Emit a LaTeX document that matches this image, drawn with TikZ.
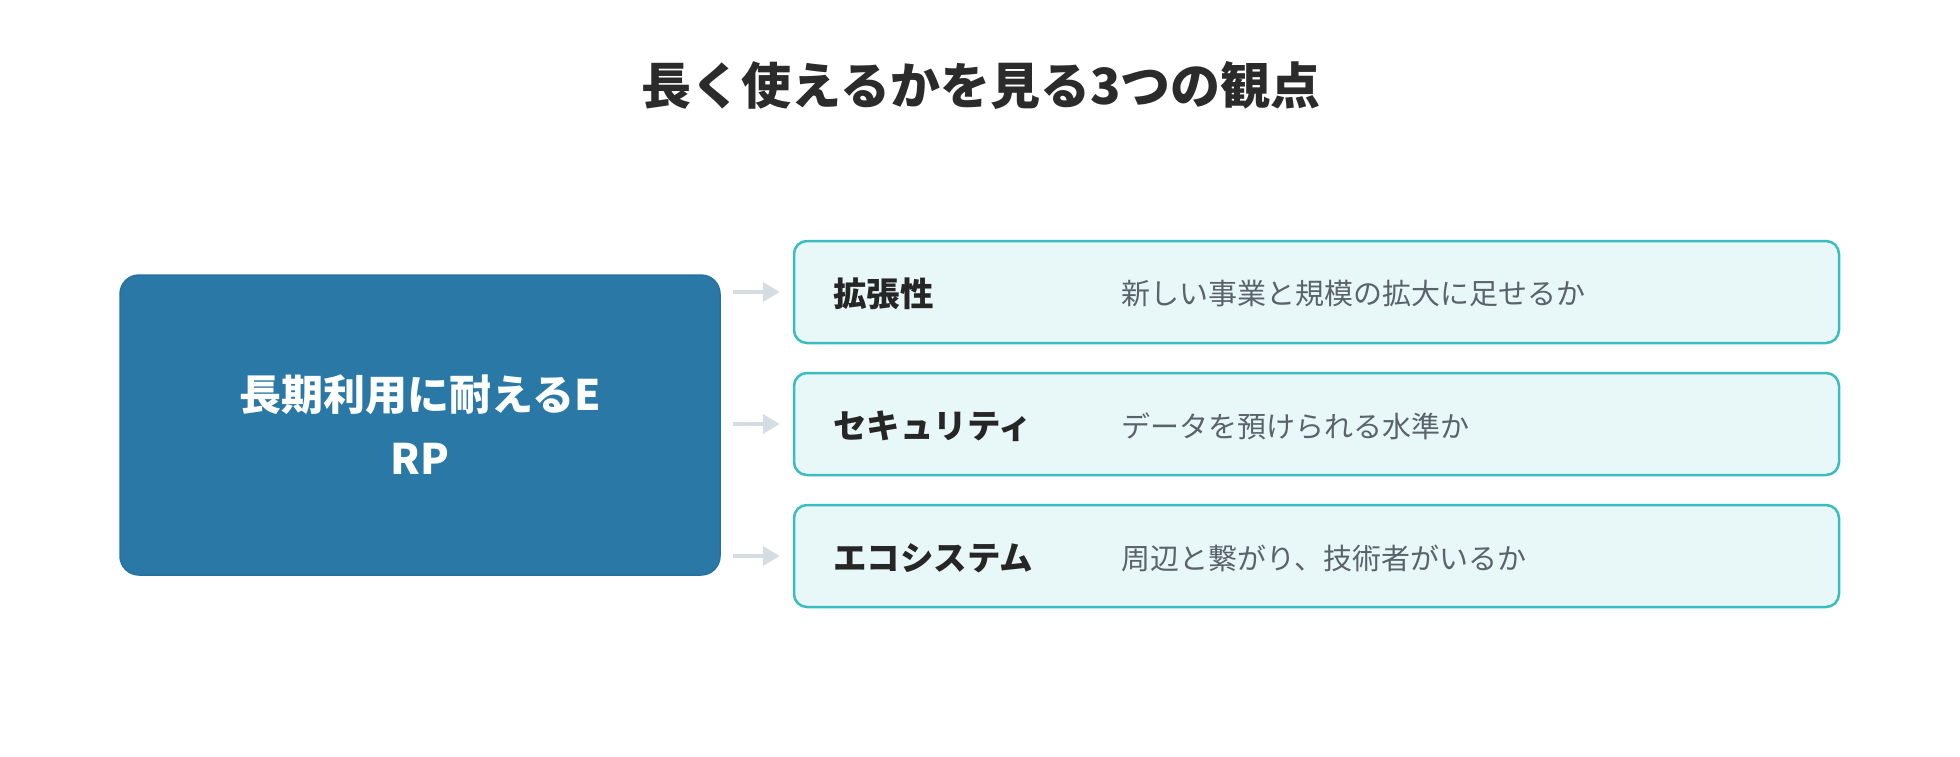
\documentclass[tikz,border=0pt]{standalone}
\usepackage{fontspec}
\usetikzlibrary{arrows.meta}
\newfontfamily\jp{Noto Sans CJK JP}
\definecolor{titlec}{HTML}{2B2B2B}
\definecolor{mainfill}{HTML}{2A78A6}
\definecolor{mainline}{HTML}{2770A0}
\definecolor{cardfill}{HTML}{E8F7F7}
\definecolor{cardline}{HTML}{3BBDBF}
\definecolor{labelc}{HTML}{262626}
\definecolor{descc}{HTML}{5A636B}
\definecolor{arrowc}{HTML}{D5DCE3}
\tikzset{
  mainbox/.style={draw=mainline, line width=1.5pt, fill=mainfill, rounded corners=19pt,
    minimum width=600pt, minimum height=300pt, inner sep=0pt, text=white,
    font=\jp\bfseries\fontsize{42}{64}\selectfont, align=center},
  card/.style={draw=cardline, line width=2.5pt, fill=cardfill, rounded corners=13pt,
    minimum width=1045pt, minimum height=102pt, inner sep=0pt},
  cardlabel/.style={anchor=west, inner sep=0pt, text=labelc, font=\jp\bfseries\fontsize{33.5}{40}\selectfont},
  carddesc/.style={anchor=west, inner sep=0pt, text=descc, font=\jp\fontsize{29}{34}\selectfont},
  link/.style={draw=arrowc, line width=4.5pt, -{Triangle[width=19pt,length=17pt]}, shorten <=12pt, shorten >=13pt},
}
\begin{document}
\begin{tikzpicture}[x=1pt,y=-1pt]
\useasboundingbox[fill=white] (0,0) rectangle (1960,756);
\node[text=titlec, font=\jp\bfseries\fontsize{50}{60}\selectfont] (title) at (981,86) {長く使えるかを見る3つの観点};
\node[mainbox] (main) at (420,425) {長期利用に耐えるE\\RP};
\node[card] (c1) at (1316.5,292) {};
\node[card] (c2) at (1316.5,424) {};
\node[card] (c3) at (1316.5,556) {};
\node[cardlabel] (l1) at (833,294) {拡張性};
\node[cardlabel] (l2) at (833,426) {セキュリティ};
\node[cardlabel] (l3) at (833,558) {エコシステム};
\node[carddesc] (d1) at (1121,294) {新しい事業と規模の拡大に足せるか};
\node[carddesc] (d2) at (1121,426) {データを預けられる水準か};
\node[carddesc] (d3) at (1121,558) {周辺と繋がり、技術者がいるか};
\draw[link] (main.east |- c1.west) -- (c1.west);
\draw[link] (main.east |- c2.west) -- (c2.west);
\draw[link] (main.east |- c3.west) -- (c3.west);
\end{tikzpicture}
\end{document}
